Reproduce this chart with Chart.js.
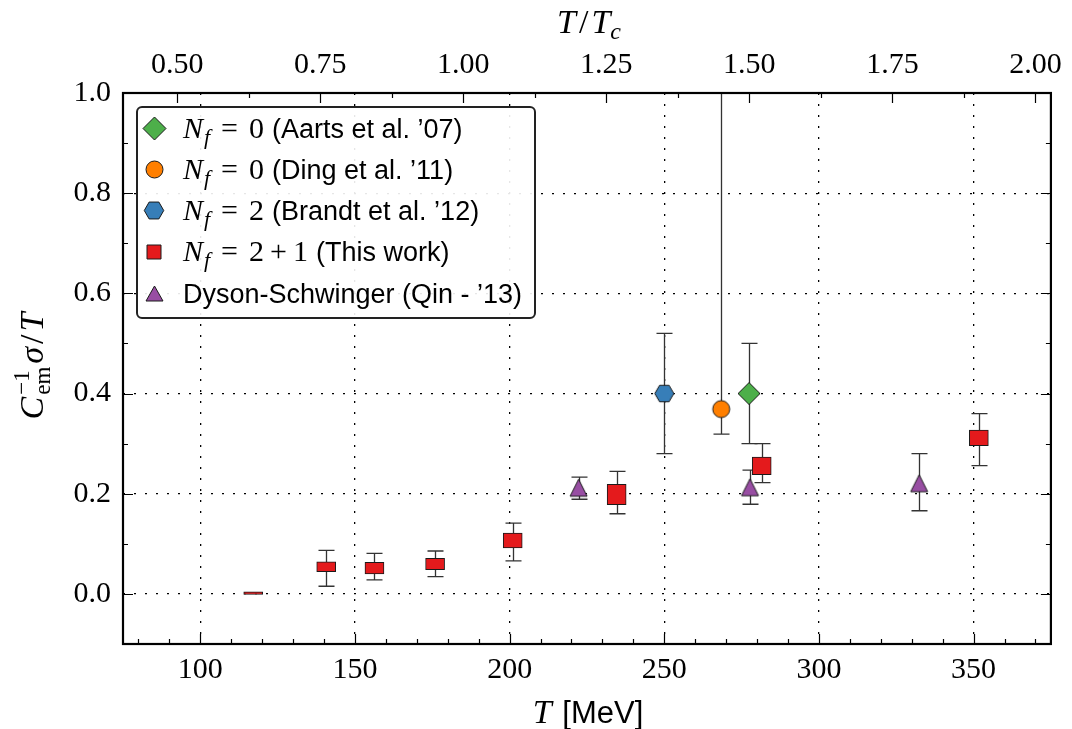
<!DOCTYPE html>
<html>
<head>
<meta charset="utf-8">
<script src="https://cdn.jsdelivr.net/npm/chart.js@4.4.0/dist/chart.umd.min.js"></script>
<style>
  html, body { margin: 0; padding: 0; background: #fff; }
  #wrap { width: 1072px; height: 729px; }
</style>
</head>
<body>
<div id="wrap"><canvas id="chart" width="1072" height="729"></canvas></div>
<script>
const T_C = 185; // MeV, for the upper T/Tc axis

const xTicks = [100, 150, 200, 250, 300, 350];
const topTicks = [0.50, 0.75, 1.00, 1.25, 1.50, 1.75, 2.00];
const yTicks = [0.0, 0.2, 0.4, 0.6, 0.8, 1.0];

// Nf = 2+1 (This work): box range + error bars
const thisT       = [117.1, 140.7, 156.3, 175.9, 201.0, 234.6, 281.5, 351.7];
const thisBoxLow  = [-0.001, 0.0445, 0.040, 0.0485, 0.0917, 0.178, 0.238, 0.296];
const thisBoxHigh = [0.004, 0.0638, 0.063, 0.071, 0.1216, 0.2186, 0.273, 0.327];
const thisErrLow  = [null, 0.0153, 0.028, 0.0346, 0.0658, 0.160, 0.222, 0.256];
const thisErrHigh = [null, 0.087, 0.081, 0.0857, 0.1415, 0.2445, 0.300, 0.360];

// Nf = 0 (Aarts et al. '07)
const aartsT = [277.4];
const aartsY = [0.400];
const aartsErrLow = [0.300];
const aartsErrHigh = [0.500];

// Nf = 0 (Ding et al. '11) - upper error runs off the top
const dingT = [268.4];
const dingY = [0.369];
const dingErrLow = [0.319];
const dingErrHigh = [1.2];

// Nf = 2 (Brandt et al. '12)
const brandtT = [250.0];
const brandtY = [0.400];
const brandtErrLow = [0.280];
const brandtErrHigh = [0.520];

// Dyson-Schwinger (Qin - '13)
const qinT = [222.3, 277.7, 332.4];
const qinY = [0.212, 0.213, 0.221];
const qinErrLow = [0.189, 0.179, 0.166];
const qinErrHigh = [0.233, 0.247, 0.280];

const legendMath = ['0', '0', '2', '2+1', null];
const legendRefs = ['(Aarts et al. \u201907)', '(Ding et al. \u201911)', '(Brandt et al. \u201912)', '(This work)', 'Dyson-Schwinger (Qin - \u201913)'];

const GREEN = '#4daf4a', ORANGE = '#ff7f00', BLUE = '#377eb8', RED = '#e41a1c', PURPLE = '#984ea3';
const EDGE = '#1a1a1a';

function makeMarker(shape, w, h, fill) {
  const pad = 2;
  const c = document.createElement('canvas');
  c.width = Math.ceil(w + 2 * pad);
  c.height = Math.ceil(h + 2 * pad);
  const g = c.getContext('2d');
  const cx = c.width / 2, cy = c.height / 2;
  g.beginPath();
  if (shape === 'diamond') {
    g.moveTo(cx, cy - h / 2); g.lineTo(cx + w / 2, cy); g.lineTo(cx, cy + h / 2); g.lineTo(cx - w / 2, cy);
  } else if (shape === 'circle') {
    g.arc(cx, cy, w / 2, 0, 2 * Math.PI);
  } else if (shape === 'hexagon') {
    for (let k = 0; k < 6; k++) {
      const a = k * Math.PI / 3;
      const px = cx + w / 2 * Math.cos(a), py = cy + w / 2 * Math.sin(a);
      if (k) g.lineTo(px, py); else g.moveTo(px, py);
    }
  } else if (shape === 'triangle') {
    g.moveTo(cx, cy - h / 2); g.lineTo(cx + w / 2, cy + h / 2); g.lineTo(cx - w / 2, cy + h / 2);
  } else {
    g.rect(cx - w / 2, cy - h / 2, w, h);
  }
  g.closePath();
  g.fillStyle = fill;
  g.fill();
  g.lineWidth = 1;
  g.strokeStyle = EDGE;
  g.stroke();
  return c;
}

const diamondMk = makeMarker('diamond', 22, 22, GREEN);
const circleMk = makeMarker('circle', 17, 17, ORANGE);
const hexMk = makeMarker('hexagon', 19, 16.5, BLUE);
const triMk = makeMarker('triangle', 17, 17, PURPLE);
const legendMarkers = [
  makeMarker('diamond', 23, 23, GREEN),
  makeMarker('circle', 17, 17, ORANGE),
  makeMarker('hexagon', 19.5, 17, BLUE),
  makeMarker('square', 14, 14, RED),
  makeMarker('triangle', 17, 15, PURPLE)
];

const pts = (xs, ys) => xs.map((t, i) => ({ x: t, y: ys[i] }));

// error bars under the markers, through the chart scales
const errorBars = {
  id: 'errorBars',
  beforeDatasetsDraw(chart) {
    const { ctx, chartArea: a, scales: { x, y } } = chart;
    ctx.save();
    ctx.beginPath();
    ctx.rect(a.left, a.top, a.width, a.height);
    ctx.clip();
    ctx.strokeStyle = '#333';
    ctx.lineWidth = 1.3;
    chart.data.datasets.forEach(ds => {
      if (!ds.errLow) return;
      ds.data.forEach((p, i) => {
        const lo = ds.errLow[i], hi = ds.errHigh[i];
        if (lo == null) return;
        const px = Math.round(x.getPixelForValue(p.x)) + 0.5;
        const y1 = y.getPixelForValue(lo), y2 = y.getPixelForValue(hi);
        ctx.beginPath();
        ctx.moveTo(px, y1); ctx.lineTo(px, y2);
        ctx.moveTo(px - 8, y1); ctx.lineTo(px + 8, y1);
        ctx.moveTo(px - 8, y2); ctx.lineTo(px + 8, y2);
        ctx.stroke();
      });
    });
    ctx.restore();
  }
};

// inward ticks on all four sides and the heavy frame
const frame = {
  id: 'frame',
  afterDatasetsDraw(chart) {
    const { ctx, chartArea: a, scales } = chart;
    ctx.save();
    ctx.strokeStyle = '#000';
    ctx.lineWidth = 1.2;
    ctx.beginPath();
    const vtick = (px, len, top) => {
      px = Math.round(px) + 0.5;
      if (top) { ctx.moveTo(px, a.top); ctx.lineTo(px, a.top + len); }
      else { ctx.moveTo(px, a.bottom); ctx.lineTo(px, a.bottom - len); }
    };
    const htick = (py, len) => {
      py = Math.round(py) + 0.5;
      ctx.moveTo(a.left, py); ctx.lineTo(a.left + len, py);
      ctx.moveTo(a.right, py); ctx.lineTo(a.right - len, py);
    };
    for (let v = 80; v <= 370; v += 10) {
      vtick(scales.x.getPixelForValue(v), v % 50 === 0 ? 10 : 5, false);
    }
    topTicks.forEach(v => vtick(scales.x2.getPixelForValue(v), 10, true));
    for (let v = 0.625; v < 2.0; v += 0.25) vtick(scales.x2.getPixelForValue(v), 5, true);
    yTicks.forEach(v => htick(scales.y.getPixelForValue(v), 10));
    for (let v = 0.1; v < 1.0; v += 0.2) htick(scales.y.getPixelForValue(v), 5);
    ctx.stroke();
    ctx.lineWidth = 2.2;
    ctx.strokeRect(a.left, a.top, a.width, a.height);
    ctx.restore();
  }
};

function drawRuns(ctx, runs, x0, y0, center) {
  const items = [];
  let x = 0, prevStart = 0, prevEnd = 0;
  for (const r of runs) {
    ctx.font = r.f;
    const w = ctx.measureText(r.t).width;
    const start = r.back ? prevStart : x + (r.gap || 0);
    items.push({ r, start });
    const end = start + w;
    x = r.back ? Math.max(prevEnd, end) : end;
    prevStart = start;
    prevEnd = end;
  }
  const off = center ? -x / 2 : 0;
  items.forEach(({ r, start }) => {
    ctx.font = r.f;
    ctx.fillText(r.t, x0 + off + start, y0 + (r.dy || 0));
  });
  return x0 + off + x;
}

const SERIF = "'Liberation Serif', 'DejaVu Serif', serif";
const SANS = "'Liberation Sans', Arial, sans-serif";

// math-style axis titles and the legend
const annotations = {
  id: 'annotations',
  afterDraw(chart) {
    const { ctx } = chart;
    ctx.save();
    ctx.fillStyle = '#000';
    ctx.textBaseline = 'alphabetic';
    ctx.textAlign = 'left';

    const I34 = 'italic 34px ' + SERIF, R34 = '34px ' + SERIF;
    drawRuns(ctx, [{ t: 'T', f: I34 }, { t: ' [MeV]', f: '31px ' + SANS, gap: 2 }], 588, 723, true);
    drawRuns(ctx, [{ t: 'T', f: I34 }, { t: '/', f: R34, gap: 3 }, { t: 'T', f: I34, gap: 3 },
                   { t: 'c', f: 'italic 24px ' + SERIF, dy: 6 }], 589, 33, true);

    ctx.save();
    ctx.translate(43, 366);
    ctx.rotate(-Math.PI / 2);
    drawRuns(ctx, [{ t: 'C', f: I34 },
                   { t: '\u22121', f: '23px ' + SERIF, dy: -14, gap: 2 },
                   { t: 'em', f: '23px ' + SERIF, dy: 7, back: true },
                   { t: '\u03c3', f: I34, gap: 3 }, { t: '/', f: R34, gap: 3 }, { t: 'T', f: I34, gap: 3 }], 0, 0, true);
    ctx.restore();

    // legend box
    const L = { x: 137, y: 107, w: 398, h: 211, r: 5 };
    ctx.beginPath();
    ctx.moveTo(L.x + L.r, L.y);
    ctx.arcTo(L.x + L.w, L.y, L.x + L.w, L.y + L.h, L.r);
    ctx.arcTo(L.x + L.w, L.y + L.h, L.x, L.y + L.h, L.r);
    ctx.arcTo(L.x, L.y + L.h, L.x, L.y, L.r);
    ctx.arcTo(L.x, L.y, L.x + L.w, L.y, L.r);
    ctx.closePath();
    ctx.fillStyle = 'rgba(255,255,255,0.9)';
    ctx.fill();
    ctx.lineWidth = 2;
    ctx.strokeStyle = '#222';
    ctx.stroke();

    ctx.fillStyle = '#000';
    const I30 = 'italic 30px ' + SERIF, R30 = '30px ' + SERIF;
    legendRefs.forEach((ref, i) => {
      const cy = 128 + i * 41.3;
      const mk = legendMarkers[i];
      ctx.drawImage(mk, Math.round(154 - mk.width / 2), Math.round(cy - mk.height / 2));
      const base = cy + 9.5;
      let x = 183;
      if (legendMath[i] !== null) {
        const runs = [{ t: 'N', f: I30 }, { t: 'f', f: 'italic 22px ' + SERIF, dy: 6, gap: 1 }, { t: '=', f: R30, gap: 11 }];
        legendMath[i].split('+').forEach((part, k) => {
          if (k) runs.push({ t: '+', f: R30, gap: 6 });
          runs.push({ t: part, f: R30, gap: k ? 6 : 11 });
        });
        x = drawRuns(ctx, runs, x, base, false) + 8;
      }
      ctx.font = '27px ' + SANS;
      ctx.fillText(ref, x, base);
    });
    ctx.restore();
  }
};

const TICK_FONT = { family: SERIF, size: 30 };

new Chart(document.getElementById('chart'), {
  type: 'scatter',
  data: {
    datasets: [
      {
        type: 'bar',
        label: 'N_f = 2+1 (This work)',
        data: thisT.map((t, i) => ({ x: t, y: [thisBoxLow[i], thisBoxHigh[i]] })),
        backgroundColor: RED,
        borderColor: EDGE,
        borderWidth: 1,
        borderSkipped: false,
        barThickness: 19,
        errLow: thisErrLow,
        errHigh: thisErrHigh
      },
      {
        label: 'N_f = 0 (Aarts et al. \u201907)',
        data: pts(aartsT, aartsY),
        pointStyle: diamondMk, pointRadius: 11,
        errLow: aartsErrLow, errHigh: aartsErrHigh
      },
      {
        label: 'N_f = 0 (Ding et al. \u201911)',
        data: pts(dingT, dingY),
        pointStyle: circleMk, pointRadius: 9,
        errLow: dingErrLow, errHigh: dingErrHigh
      },
      {
        label: 'N_f = 2 (Brandt et al. \u201912)',
        data: pts(brandtT, brandtY),
        pointStyle: hexMk, pointRadius: 10,
        errLow: brandtErrLow, errHigh: brandtErrHigh
      },
      {
        label: 'Dyson-Schwinger (Qin - \u201913)',
        data: pts(qinT, qinY),
        pointStyle: triMk, pointRadius: 9,
        errLow: qinErrLow, errHigh: qinErrHigh
      }
    ]
  },
  options: {
    responsive: false,
    animation: false,
    events: [],
    layout: { padding: { left: 0, right: 18, top: 0, bottom: 0 } },
    plugins: {
      legend: { display: false },
      tooltip: { enabled: false }
    },
    scales: {
      x: {
        type: 'linear',
        position: 'bottom',
        min: 75,
        max: 375,
        offset: false,
        afterBuildTicks: s => { s.ticks = xTicks.map(v => ({ value: v })); },
        afterFit: s => { s.height = 85; },
        ticks: { font: TICK_FONT, color: '#000', padding: 8, autoSkip: false, maxRotation: 0, callback: v => String(v) },
        grid: { color: '#000', lineWidth: 1.3, drawTicks: false, offset: false },
        border: { display: false, dash: [2, 9] }
      },
      x2: {
        type: 'linear',
        axis: 'x',
        position: 'top',
        min: 75 / T_C,
        max: 375 / T_C,
        offset: false,
        afterBuildTicks: s => { s.ticks = topTicks.map(v => ({ value: v })); },
        afterFit: s => { s.height = 93; },
        ticks: { font: TICK_FONT, color: '#000', padding: 10, autoSkip: false, maxRotation: 0, callback: v => v.toFixed(2) },
        grid: { display: false, drawTicks: false, offset: false },
        border: { display: false }
      },
      y: {
        type: 'linear',
        position: 'left',
        min: -0.1,
        max: 1.0,
        afterBuildTicks: s => { s.ticks = yTicks.map(v => ({ value: v })); },
        afterFit: s => { s.width = 123; },
        ticks: { font: TICK_FONT, color: '#000', padding: 12, callback: v => v.toFixed(1) },
        grid: { color: '#000', lineWidth: 1.3, drawTicks: false },
        border: { display: false, dash: [2, 9] }
      }
    }
  },
  plugins: [errorBars, frame, annotations]
});
</script>
</body>
</html>
